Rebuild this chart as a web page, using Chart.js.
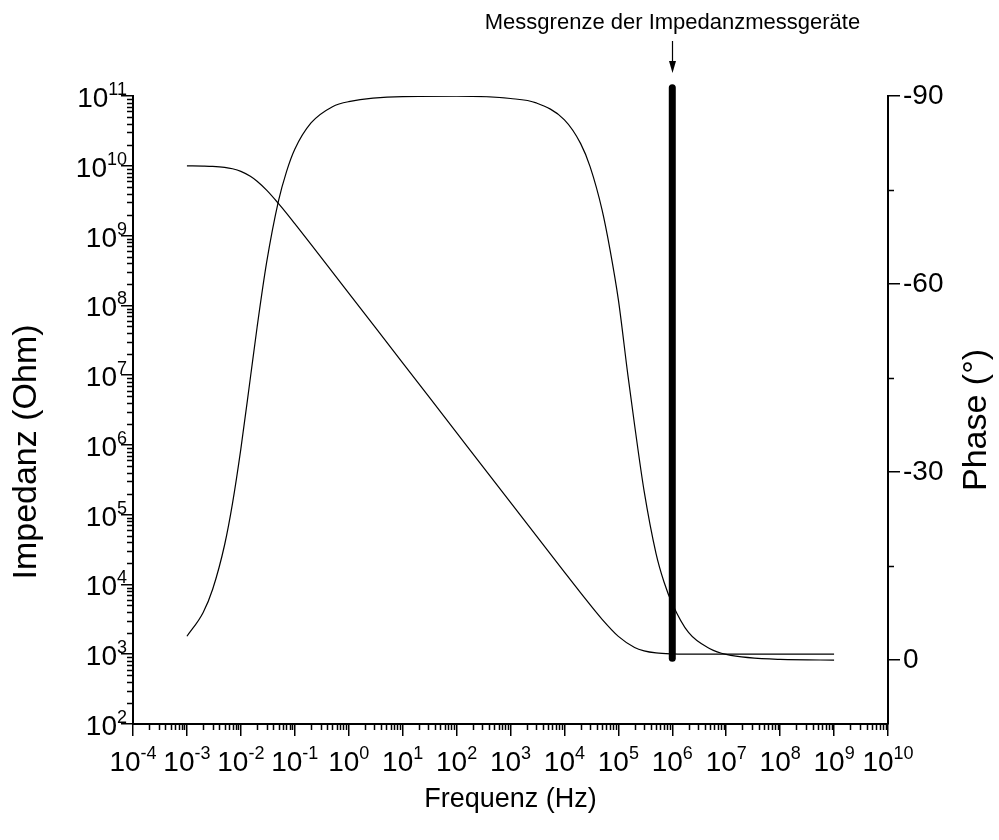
<!DOCTYPE html>
<html>
<head>
<meta charset="utf-8">
<script src="https://cdn.jsdelivr.net/npm/chart.js@4/dist/chart.umd.min.js"></script>
<style>
html,body{margin:0;padding:0;background:#fff;}
#wrap{width:999px;height:840px;position:relative;}
</style>
</head>
<body>
<div id="wrap"><canvas id="c"></canvas></div>
<script>
// ---- data ----
const freqZ = [1e-3, 2e-3, 3e-3, 5e-3, 7e-3, 1e-2, 1.5e-2, 2e-2, 3e-2, 5e-2, 7e-2, 1e-1, 2e-1, 5e-1, 1, 10, 100, 1e3, 1e4, 2e4, 5e4, 1e5, 2e5, 3e5, 5e5, 1e6, 2e6, 1e7, 1e8, 1e9];
const impedance = [9.98e9, 9.91e9, 9.81e9, 9.49e9, 9.06e9, 8.32e9, 7.07e9, 6.0e9, 4.47e9, 2.87e9, 2.10e9, 1.48e9, 7.48e8, 3.0e8, 1.5e8, 1.5e7, 1.5e6, 1.5e5, 1.5e4, 7566, 3162, 1803, 1250, 1118, 1044, 1011, 1003, 1000, 1000, 1000];

const freqPhase = [1e-3, 2e-3, 3e-3, 5e-3, 7e-3, 1e-2, 1.5e-2, 2e-2, 3e-2, 5e-2, 7e-2, 1e-1, 2e-1, 5e-1, 1, 10, 100, 1e3, 3e3, 1e4, 2e4, 3e4, 5e4, 7e4, 1e5, 1.5e5, 2e5, 3e5, 5e5, 7e5, 1e6, 2e6, 5e6, 1e7, 1e8, 1e9];
const phase = [-3.8, -7.6, -11.3, -18.4, -25.0, -33.7, -45.0, -53.1, -63.4, -73.3, -77.9, -81.5, -85.7, -88.3, -89.1, -89.9, -89.96, -89.6, -88.9, -86.2, -82.4, -78.7, -71.8, -65.5, -57.5, -45.5, -37.5, -27.0, -17.0, -12.5, -9.0, -4.4, -1.8, -0.9, -0.1, 0];

const limitFreq = [1e6, 1e6];
const limitPhase = [-0.3, -91.3];
const limitLabel = 'Messgrenze der Impedanzmessgeräte';

const xDecades = [-4, -3, -2, -1, 0, 1, 2, 3, 4, 5, 6, 7, 8, 9, 10];
const yDecades = [2, 3, 4, 5, 6, 7, 8, 9, 10, 11];
const phaseTicks = [-90, -60, -30, 0];
const phaseMinorTicks = [-75, -45, -15];

const xTitle = 'Frequenz (Hz)';
const yTitle = 'Impedanz (Ohm)';
const y2Title = 'Phase (°)';

// ---- styling ----
const FAMILY = "'Liberation Sans', Arial, sans-serif";
const BASE_FONT = '28px ' + FAMILY;
const SUP_FONT = '18px ' + FAMILY;
const SUP_RAISE = 12;
const MAJOR_LEN = 12, MINOR_LEN = 6;

Chart.defaults.font.family = FAMILY;
Chart.defaults.color = '#000';

function drawPow(ctx, base, exp, x, y, align) {
  ctx.font = BASE_FONT;
  const wb = ctx.measureText(base).width;
  ctx.font = SUP_FONT;
  const we = ctx.measureText(exp).width;
  const total = wb + we;
  let left = x;
  if (align === 'center') left = x - total / 2;
  else if (align === 'right') left = x - total;
  ctx.textAlign = 'left';
  ctx.textBaseline = 'alphabetic';
  ctx.font = BASE_FONT;
  ctx.fillText(base, left, y);
  ctx.font = SUP_FONT;
  ctx.fillText(exp, left + wb, y - SUP_RAISE);
}

const axisPlugin = {
  id: 'axisExtras',
  afterDraw(chart) {
    const ctx = chart.ctx;
    const xs = chart.scales.x, ys = chart.scales.y, y2 = chart.scales.y2;
    const ca = chart.chartArea;
    ctx.save();
    ctx.strokeStyle = '#000';
    ctx.fillStyle = '#000';
    ctx.lineWidth = 1.5;
    ctx.beginPath();
    for (let d = xDecades[0]; d < xDecades[xDecades.length - 1]; d++) {
      for (let m = 2; m <= 9; m++) {
        const px = Math.round(xs.getPixelForValue(m * Math.pow(10, d))) + 0.5;
        ctx.moveTo(px, ca.bottom);
        ctx.lineTo(px, ca.bottom + MINOR_LEN);
      }
    }
    for (let d = yDecades[0]; d < yDecades[yDecades.length - 1]; d++) {
      for (let m = 2; m <= 9; m++) {
        const py = Math.round(ys.getPixelForValue(m * Math.pow(10, d))) + 0.5;
        ctx.moveTo(ca.left, py);
        ctx.lineTo(ca.left - MINOR_LEN, py);
      }
    }
    phaseMinorTicks.forEach(v => {
      const py = Math.round(y2.getPixelForValue(v)) + 0.5;
      ctx.moveTo(ca.right, py);
      ctx.lineTo(ca.right + MINOR_LEN, py);
    });
    ctx.stroke();

    xDecades.forEach(d => {
      const px = xs.getPixelForValue(Math.pow(10, d));
      drawPow(ctx, '10', String(d), px, ca.bottom + 47, 'center');
    });
    yDecades.forEach(d => {
      const py = ys.getPixelForValue(Math.pow(10, d));
      drawPow(ctx, '10', String(d), ca.left - 6, py + 11, 'right');
    });

    // axis titles
    ctx.textAlign = 'center';
    ctx.textBaseline = 'middle';
    ctx.font = '27px ' + FAMILY;
    ctx.fillText(xTitle, (ca.left + ca.right) / 2, 800);
    ctx.save();
    ctx.font = '34px ' + FAMILY;
    ctx.translate(27, 452);
    ctx.rotate(-Math.PI / 2);
    ctx.fillText(yTitle, 0, 0);
    ctx.restore();
    ctx.save();
    ctx.font = '34px ' + FAMILY;
    ctx.translate(977, 420);
    ctx.rotate(-Math.PI / 2);
    ctx.fillText(y2Title, 0, 0);
    ctx.restore();

    // annotation with arrow
    const ax = Math.round(xs.getPixelForValue(limitFreq[0])) + 0.5;
    ctx.font = '22px ' + FAMILY;
    ctx.textAlign = 'center';
    ctx.textBaseline = 'alphabetic';
    ctx.fillText(limitLabel, ax, 29);
    ctx.lineWidth = 1.2;
    ctx.beginPath();
    ctx.moveTo(ax, 41);
    ctx.lineTo(ax, 64);
    ctx.stroke();
    ctx.beginPath();
    ctx.moveTo(ax - 3.5, 61);
    ctx.lineTo(ax + 3.5, 61);
    ctx.lineTo(ax, 73);
    ctx.closePath();
    ctx.fill();
    ctx.restore();
  }
};

const gridOpts = { drawOnChartArea: false, drawTicks: true, tickLength: MAJOR_LEN, color: '#000', lineWidth: 1.5 };
const borderOpts = { display: true, color: '#000', width: 2 };

new Chart(document.getElementById('c'), {
  type: 'line',
  data: {
    datasets: [
      {
        label: 'Impedanz',
        data: freqZ.map((f, i) => ({ x: f, y: impedance[i] })),
        yAxisID: 'y',
        borderColor: '#000', borderWidth: 1.2, pointRadius: 0,
        cubicInterpolationMode: 'monotone', fill: false
      },
      {
        label: 'Phase',
        data: freqPhase.map((f, i) => ({ x: f, y: phase[i] })),
        yAxisID: 'y2',
        borderColor: '#000', borderWidth: 1.2, pointRadius: 0,
        cubicInterpolationMode: 'monotone', fill: false
      },
      {
        label: 'Messgrenze',
        data: limitFreq.map((f, i) => ({ x: f, y: limitPhase[i] })),
        yAxisID: 'y2',
        borderColor: '#000', borderWidth: 7, borderCapStyle: 'round', pointRadius: 0,
        clip: false, fill: false
      }
    ]
  },
  options: {
    responsive: true, maintainAspectRatio: false, animation: false,
    layout: { padding: { top: 96, left: 0, right: 0, bottom: 0 } },
    plugins: { legend: { display: false }, tooltip: { enabled: false } },
    scales: {
      x: {
        type: 'logarithmic', position: 'bottom', min: 1e-4, max: 1e10,
        afterBuildTicks: s => { s.ticks = xDecades.map(d => ({ value: Math.pow(10, d) })); },
        ticks: { callback: () => '', autoSkip: false, maxRotation: 0 },
        grid: gridOpts, border: borderOpts,
        afterFit: s => { s.height = 116; }
      },
      y: {
        type: 'logarithmic', position: 'left', min: 1e2, max: 1e11,
        afterBuildTicks: s => { s.ticks = yDecades.map(d => ({ value: Math.pow(10, d) })); },
        ticks: { callback: () => '', autoSkip: false },
        grid: gridOpts, border: borderOpts,
        afterFit: s => { s.width = 133; }
      },
      y2: {
        type: 'linear', position: 'right', min: -90, max: 10.2, reverse: true,
        afterBuildTicks: s => { s.ticks = phaseTicks.map(v => ({ value: v })); },
        ticks: { callback: v => String(v), autoSkip: false, font: { size: 28 }, padding: 3, color: '#000' },
        grid: gridOpts, border: borderOpts,
        afterFit: s => { s.width = 111; }
      }
    }
  },
  plugins: [axisPlugin]
});
</script>
</body>
</html>
